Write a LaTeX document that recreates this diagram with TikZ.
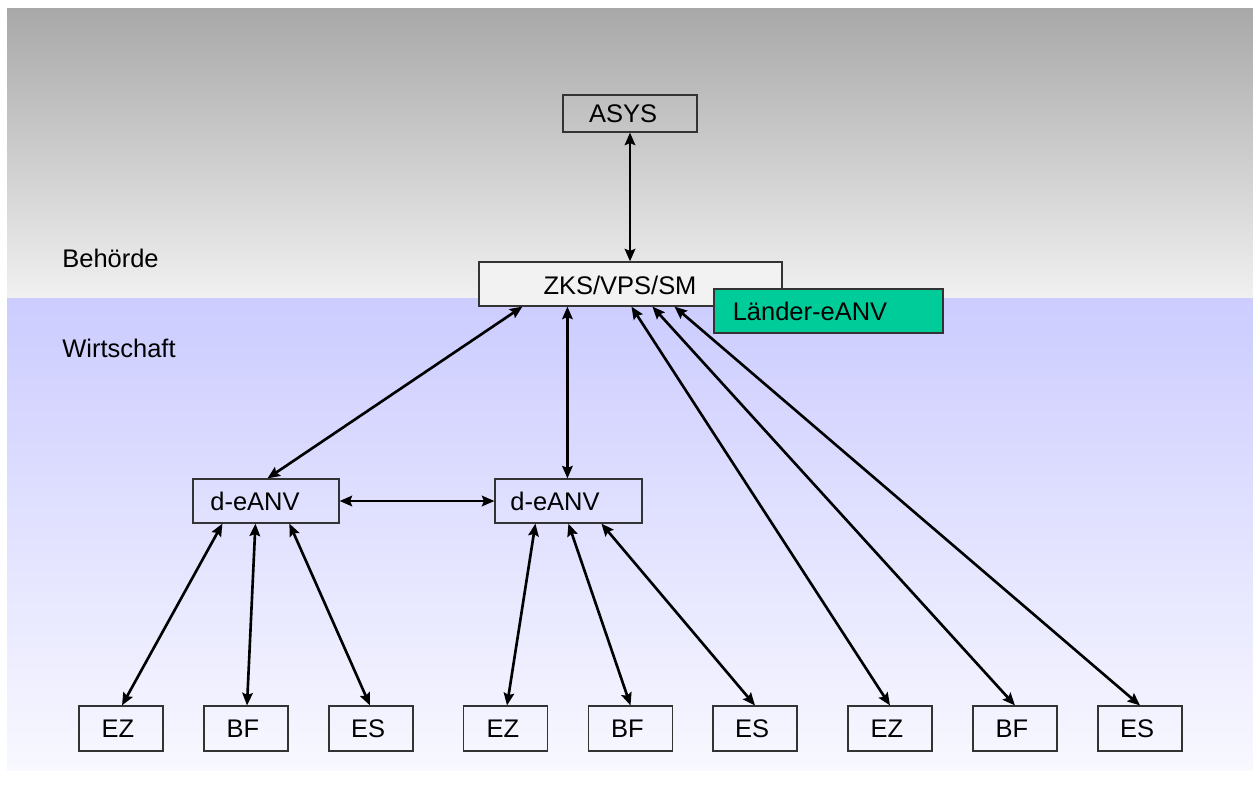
\documentclass[tikz,border=0pt]{standalone}
\usepackage{fontspec}
\setmainfont{Liberation Sans}
\usetikzlibrary{arrows.meta}
\newcommand\PX{0.02cm}
\definecolor{grayTop}{HTML}{A8A8A8}
\definecolor{grayBot}{HTML}{F0F0F0}
\definecolor{lavTop}{HTML}{CCCCFF}
\definecolor{lavBot}{HTML}{F8F8FF}
\definecolor{zksfill}{HTML}{F2F2F2}
\definecolor{laender}{HTML}{00CC99}
\begin{document}
\begin{tikzpicture}[x=0.02cm,y=-0.02cm,
  box/.style={draw=black!80, line width=0.65pt, inner sep=0pt, anchor=center},
  small/.style={box, minimum width=84*\PX, minimum height=45*\PX},
  lbl/.style={font=\fontsize{14.5}{17}\selectfont, inner sep=0pt},
  link/.style={line width=1.5pt,
    {Stealth[length=0.25cm,width=0.21cm,inset=0.04cm]}-{Stealth[length=0.25cm,width=0.21cm,inset=0.04cm]}}]
\useasboundingbox (0,0) rectangle (1253,789);
% background
\shade[top color=grayTop, bottom color=grayBot] (7,8) rectangle (1253,298);
\shade[top color=lavTop, bottom color=lavBot] (7,298) rectangle (1253,770);
% side labels
\node[lbl, anchor=base west] (behoerde) at (62,267) {Behörde};
\node[lbl, anchor=base west] (wirtschaft) at (62,357) {Wirtschaft};
% top boxes
\node[box, minimum width=134*\PX, minimum height=37*\PX] (asys) at (630,113.5) {};
\node[lbl] (asys-t) at (623,113.5) {ASYS};
\node[box, fill=zksfill, minimum width=303*\PX, minimum height=44*\PX] (zks) at (630.5,284) {};
\node[lbl] (zks-t) at (620,285) {ZKS/VPS/SM};
\node[box, fill=laender, minimum width=229*\PX, minimum height=44*\PX] (laender) at (828.5,311) {};
\node[lbl] (laender-t) at (810,311) {Länder-eANV};
% d-eANV boxes
\node[box, minimum width=146*\PX, minimum height=44*\PX] (d1) at (266,501) {};
\node[lbl] (d1-t) at (255,501) {d-eANV};
\node[box, minimum width=147*\PX, minimum height=44*\PX] (d2) at (568.5,501) {};
\node[lbl] (d2-t) at (555,501) {d-eANV};
% bottom boxes
\node[small] (ez1) at (121,728.5) {};
\node[small] (bf1) at (246,728.5) {};
\node[small] (es1) at (371,728.5) {};
\node[small] (ez2) at (505.5,728.5) {};
\node[small] (bf2) at (630.5,728.5) {};
\node[small] (es2) at (755,728.5) {};
\node[small] (ez3) at (890,728.5) {};
\node[small] (bf3) at (1015,728.5) {};
\node[small] (es3) at (1140,728.5) {};
\node[lbl] (ez1-t) at (118,729) {EZ};
\node[lbl] (bf1-t) at (243,729) {BF};
\node[lbl] (es1-t) at (368,729) {ES};
\node[lbl] (ez2-t) at (503,729) {EZ};
\node[lbl] (bf2-t) at (627.5,729) {BF};
\node[lbl] (es2-t) at (752,729) {ES};
\node[lbl] (ez3-t) at (887,729) {EZ};
\node[lbl] (bf3-t) at (1012,729) {BF};
\node[lbl] (es3-t) at (1137,729) {ES};
% connectors
\draw[link] (asys.south) -- (asys.south |- zks.north);
\draw[link] ([xshift=44*\PX]zks.south west) -- ([xshift=75*\PX]d1.north west);
\draw[link] ([xshift=89*\PX]zks.south west) -- ([xshift=73*\PX]d2.north west);
\draw[link] ([xshift=153*\PX]zks.south west) -- (ez3.north);
\draw[link] ([xshift=174*\PX]zks.south west) -- (bf3.north);
\draw[link] ([xshift=196*\PX]zks.south west) -- (es3.north);
\draw[link] (d1.east) -- (d2.west);
\draw[link] ([xshift=30*\PX]d1.south west) -- ([xshift=1*\PX]ez1.north);
\draw[link] ([xshift=63*\PX]d1.south west) -- ([xshift=1*\PX]bf1.north);
\draw[link] ([xshift=97*\PX]d1.south west) -- ([xshift=-1*\PX]es1.north);
\draw[link] ([xshift=41*\PX]d2.south west) -- ([xshift=1.5*\PX]ez2.north);
\draw[link] ([xshift=74*\PX]d2.south west) -- (bf2.north);
\draw[link] ([xshift=107*\PX]d2.south west) -- (es2.north);
\end{tikzpicture}
\end{document}
